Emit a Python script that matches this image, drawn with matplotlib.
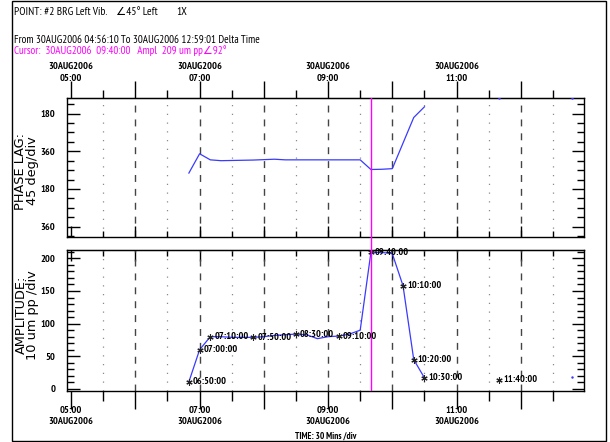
import matplotlib
matplotlib.use('Agg')
import matplotlib.pyplot as plt
from matplotlib import font_manager
from matplotlib.font_manager import FontProperties
from matplotlib.patches import Rectangle
from matplotlib.ticker import FixedLocator, FuncFormatter, NullFormatter

fl = font_manager.fontManager.ttflist
names = {f.name for f in fl}
bold_names = {f.name for f in fl if (f.weight if isinstance(f.weight, int) else 400) >= 700
              or f.weight in ('bold', 'heavy', 'black')}
CANDS = ['Liberation Sans Narrow', 'Arial Narrow', 'Archivo Narrow', 'PT Sans Narrow',
         'Roboto Condensed', 'Fira Sans Condensed', 'IBM Plex Sans Condensed',
         'Encode Sans Condensed', 'Asap Condensed', 'Open Sans Condensed']
NARROW = None
for cand in CANDS:
    if cand in bold_names:
        NARROW = cand
        break
if NARROW is None:
    for cand in CANDS:
        if cand in names:
            NARROW = cand
            break
if NARROW is None:
    NARROW = 'Liberation Sans'
FAM = [NARROW, 'DejaVu Sans']

# ---------------- data ----------------
amp_times = ['06:50', '07:00', '07:10', '07:20', '07:30', '07:40', '07:50', '08:00',
             '08:10', '08:20', '08:30', '08:40', '08:50', '09:00', '09:10', '09:20',
             '09:30', '09:40', '09:50', '10:00', '10:10', '10:20', '10:30']
amp_values = [11, 60, 80, 80, 79, 79, 79, 80, 82, 83, 84, 83, 77, 80, 81, 84,
              90, 209, 209, 207, 158, 45, 17]
phase_values = [464, 372, 401, 405, 404, 403, 402, 400, 398, 401, 401, 401, 401, 401,
                401, 401, 401, 447, 446, 443, 321, 199, 148]
late_times = ['11:40', '12:48']
late_amp = [14, 19]
late_phase = [108, 108]
labeled_times = ['06:50', '07:00', '07:10', '07:50', '08:30', '09:10', '09:40',
                 '10:10', '10:20', '10:30', '11:40']
phase_ticks = [180, 360, 540, 720]
phase_ticklabels = ['180', '360', '180', '360']
amp_ticks = [0, 50, 100, 150, 200]
time_start = '04:56:10'
time_end = '12:59:01'
cursor_time = '09:40'
time_label_hours = [5, 7, 9, 11]


def hrs(s):
    p = [int(v) for v in s.split(':')]
    while len(p) < 3:
        p.append(0)
    return p[0] + p[1] / 60 + p[2] / 3600


amp_x = [hrs(t) for t in amp_times]
late_x = [hrs(t) for t in late_times]
xmin, xmax = hrs(time_start), hrs(time_end)
xc = hrs(cursor_time)

W, H = 610, 442
fig = plt.figure(figsize=(W / 100, H / 100), dpi=100)
fig.patch.set_facecolor('white')
renderer = fig.canvas.get_renderer()


def fit_size(text, target_px, family, weight='normal', base=10.0):
    t = fig.text(0, 0, text, fontfamily=family, fontsize=base, fontweight=weight)
    w = t.get_window_extent(renderer).width
    t.remove()
    return base * target_px / w


TICK_SIZE = fit_size('30AUG2006', 45, FAM, 'bold')
LBL_SIZE = fit_size('07:10:00', 34, FAM, 'bold')
tickfp = FontProperties(family=FAM, size=TICK_SIZE, weight='bold')

L, R = 67, 584
ax1 = fig.add_axes([L / W, 1 - 237 / H, (R - L) / W, (237 - 98) / H])
ax2 = fig.add_axes([L / W, 1 - 391 / H, (R - L) / W, (391 - 250) / H])

fig.add_artist(Rectangle((12 / W, 1 / H), (606 - 12) / W, (441 - 1) / H,
                         transform=fig.transFigure, fill=False, lw=1.0, ec='black'))

blue = '#3a3aff'

for ax in (ax1, ax2):
    ax.set_xlim(xmin, xmax)
    for hh in range(6, 13):
        ax.axvline(hh, color='#444444', lw=1.0, ls=(0, (5, 5)), zorder=1)
    for hh in range(5, 13):
        ax.axvline(hh + 0.5, color='#8a8a8a', lw=0.9, ls=(0, (1, 6)), zorder=1)
    for s in ax.spines.values():
        s.set_linewidth(1.0)
    ax.yaxis.set_ticks_position('both')
    ax.tick_params(axis='y', which='both', direction='in', width=1.0, pad=8.5)
    ax.tick_params(axis='y', which='major', length=9)
    ax.tick_params(axis='y', which='minor', length=5)
    ax.xaxis.set_major_locator(FixedLocator(range(5, 13)))
    ax.xaxis.set_minor_locator(FixedLocator([h + 0.5 for h in range(4, 13)]))

# ---- phase panel ----
ax1.plot(amp_x, phase_values, color=blue, lw=0.9, zorder=3)
ax1.plot(late_x, late_phase, ls='none', marker='.', ms=1.5, color=blue, zorder=3)
ax1.set_ylim(769, 106)
ax1.yaxis.set_major_locator(FixedLocator(phase_ticks))
ax1.yaxis.set_major_formatter(FuncFormatter(
    lambda v, p: phase_ticklabels[phase_ticks.index(int(round(v)))] if int(round(v)) in phase_ticks else ''))
ax1.yaxis.set_minor_locator(FixedLocator(list(range(135, 770, 45))))
ax1.xaxis.set_major_formatter(NullFormatter())
ax1.tick_params(axis='x', which='both', direction='in', width=1.0)
ax1.tick_params(axis='x', which='major', length=8)
ax1.tick_params(axis='x', which='minor', length=4)

sec1 = ax1.secondary_xaxis('top')
sec1.xaxis.set_major_locator(FixedLocator(range(5, 13)))
sec1.xaxis.set_minor_locator(FixedLocator([h + 0.5 for h in range(4, 13)]))
sec1.xaxis.set_major_formatter(FuncFormatter(
    lambda v, p: ('30AUG2006\n%02d:00' % int(round(v))) if int(round(v)) in time_label_hours else ''))
sec1.tick_params(axis='x', which='both', direction='out', width=1.0, pad=-1.0)
sec1.tick_params(axis='x', which='major', length=12)
sec1.tick_params(axis='x', which='minor', length=6)

# ---- amplitude panel ----
ax2.plot(amp_x, amp_values, color=blue, lw=0.9, zorder=3)
ax2.plot(late_x[1:], late_amp[1:], ls='none', marker='.', ms=1.5, color=blue, zorder=3)
ax2.set_ylim(-3.1, 212.7)
ax2.yaxis.set_major_locator(FixedLocator(amp_ticks))
ax2.yaxis.set_minor_locator(FixedLocator(list(range(0, 211, 10))))
ax2.yaxis.set_major_formatter(FuncFormatter(lambda v, p: '%d' % int(round(v))))
all_x = amp_x + late_x
all_amp = amp_values + late_amp
all_t = amp_times + late_times
for t in labeled_times:
    i = all_t.index(t)
    ax2.plot(all_x[i], all_amp[i], ls='none', marker=(6, 2, 0), ms=4.5,
             mew=0.8, color='#222222', zorder=4)
    ax2.annotate(t + ':00', (all_x[i], all_amp[i]), xytext=(3, 0),
                 textcoords='offset points', va='center', ha='left',
                 fontfamily=FAM, fontsize=LBL_SIZE, fontweight='bold', color='black', zorder=5)

ax2.xaxis.set_major_formatter(FuncFormatter(
    lambda v, p: ('%02d:00\n30AUG2006' % int(round(v))) if int(round(v)) in time_label_hours else ''))
ax2.tick_params(axis='x', which='both', direction='out', width=1.0, pad=-2)
ax2.tick_params(axis='x', which='major', length=13)
ax2.tick_params(axis='x', which='minor', length=7)
sec2 = ax2.secondary_xaxis('top')
sec2.xaxis.set_major_locator(FixedLocator(range(5, 13)))
sec2.xaxis.set_minor_locator(FixedLocator([h + 0.5 for h in range(4, 13)]))
sec2.xaxis.set_major_formatter(NullFormatter())
sec2.tick_params(axis='x', which='both', direction='in', width=1.0)
sec2.tick_params(axis='x', which='major', length=8)
sec2.tick_params(axis='x', which='minor', length=4)

for a in (ax1, ax2):
    for lab in a.get_yticklabels() + a.get_xticklabels():
        lab.set_fontproperties(tickfp)
        lab.set_linespacing(1.3)
for lab in sec1.get_xticklabels():
    lab.set_fontproperties(tickfp)
    lab.set_linespacing(1.45)

# cursor line across both panels
ax1.axvline(xc, color='#ff00ff', lw=1.0, zorder=4)
ax2.axvline(xc, color='#ff00ff', lw=1.0, zorder=4)
xpix = L + (xc - xmin) / (xmax - xmin) * (R - L)
fig.add_artist(plt.Line2D([xpix / W, xpix / W], [1 - 250 / H, 1 - 237 / H],
                          transform=fig.transFigure, color='#ff00ff', lw=1.0))

# axis titles
YL_SIZE = fit_size('AMPLITUDE:', 78, 'DejaVu Sans')
for txt, xx, yy in [('PHASE LAG:', 21, 171), ('45 deg/div', 32.5, 171),
                    ('AMPLITUDE:', 21, 315), ('10 um pp /div', 32.5, 315)]:
    fig.text(xx / W, 1 - yy / H, txt, rotation=90, ha='center', va='center',
             fontfamily='DejaVu Sans', fontsize=YL_SIZE)
fig.text((L + R) / 2 / W, 1 - 436.5 / H, 'TIME: 30 Mins /div', ha='center', va='center',
         fontfamily=FAM, fontsize=fit_size('TIME: 30 Mins /div', 62, FAM, 'bold'),
         fontweight='bold')

# header
HDR_SIZE = fit_size('POINT: #2 BRG Left Vib.', 93, FAM)
hdr = dict(fontfamily=FAM, fontsize=HDR_SIZE, va='center', ha='left')
fig.text(14 / W, 1 - 12 / H, 'POINT: #2 BRG Left Vib.', **hdr)
fig.text(116 / W, 1 - 12 / H, '\u222045\u00b0 Left', **hdr)
fig.text(176 / W, 1 - 12 / H, '1X', **hdr)
fig.text(14 / W, 1 - 39.5 / H, 'From 30AUG2006 04:56:10 To 30AUG2006 12:59:01 Delta Time',
         fontfamily=FAM, va='center', ha='left',
         fontsize=fit_size('From 30AUG2006 04:56:10 To 30AUG2006 12:59:01 Delta Time', 246, FAM))
cur = 'Cursor:  30AUG2006  09:40:00   Ampl  209 um pp\u222092\u00b0'
fig.text(14 / W, 1 - 51 / H, cur, fontfamily=FAM, va='center', ha='left', color='#ff00ff',
         fontsize=fit_size(cur, 212, FAM))

fig.savefig('out.png', dpi=100)
